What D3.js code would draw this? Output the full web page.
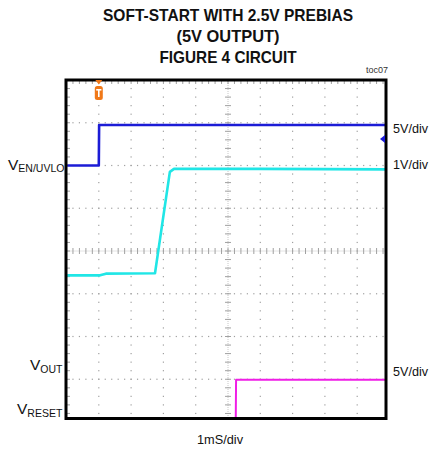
<!DOCTYPE html>
<html>
<head>
<meta charset="utf-8">
<script src="https://cdn.jsdelivr.net/npm/d3@7"></script>
<style>
  html, body { margin: 0; padding: 0; background: #fff; }
  svg { display: block; }
  text { font-family: "Liberation Sans", Arial, sans-serif; }
</style>
</head>
<body>
<div id="chart"></div>
<script>
// ---------------- DATA ----------------
const titleLines = ["SOFT-START WITH 2.5V PREBIAS", "(5V OUTPUT)", "FIGURE 4 CIRCUIT"];
const figureTag = "toc07";
const timeLabel = "1mS/div";

// time in ms from left edge of the screen, voltages in volts
const enTime  = [0.02, 1.00, 1.01, 9.95];
const enVolt  = [0.00, 0.00, 4.74, 4.74];

const outTime = [0.02, 1.04, 1.22, 2.74, 3.20, 3.33, 6.00, 9.95];
const outVolt = [2.43, 2.43, 2.47, 2.48, 4.85, 4.92, 4.92, 4.91];

const rstTime = [0.02, 5.24, 5.25, 9.95];
const rstVolt = [0.35, 0.35, 4.95, 4.95];

// channel settings: volts per division and ground position (divisions from centre)
const channelNames  = ["EN/UVLO", "OUT", "RESET"];
const channelScales = ["5V/div", "1V/div", "5V/div"];
const voltsPerDiv   = [5, 1, 5];
const groundDiv     = [2, -3, -4];
const channelColors = ["#1c1cd6", "#20e6e6", "#f01ee6"];
const triggerTime = 1.0;
const triggerLevel = 3.1; // volts on EN/UVLO channel

// ---------------- CHART ----------------
const W = 430, H = 451;
const svg = d3.select("#chart").append("svg").attr("width", W).attr("height", H);

const frame = {left: 66, right: 386, top: 80, bottom: 418.5};
const x = d3.scaleLinear().domain([0, 10]).range([66.5, 389.5]);
const y = d3.scaleLinear().domain([-4, 4]).range([422, 80]);

// title
const titleY = [20.5, 42, 62.5];
const titleW = [250, 103, 137];
titleLines.forEach((t, i) => {
  svg.append("text")
    .attr("x", 228).attr("y", titleY[i])
    .attr("text-anchor", "middle")
    .attr("font-size", 16.5).attr("font-weight", "bold")
    .attr("textLength", titleW[i]).attr("lengthAdjust", "spacingAndGlyphs")
    .attr("fill", "#111")
    .text(t);
});
svg.append("text").attr("x", 388).attr("y", 73).attr("text-anchor", "end")
  .attr("font-size", 9).attr("fill", "#333").text(figureTag);

// clip
svg.append("clipPath").attr("id", "plotclip").append("rect")
  .attr("x", frame.left).attr("y", frame.top)
  .attr("width", frame.right - frame.left).attr("height", frame.bottom - frame.top);

const plot = svg.append("g").attr("clip-path", "url(#plotclip)");

// grid dots
const gridCol = "#a0a0a0";
const xMinor = d3.range(0, 50.01, 1).map(k => k / 5);
const yMinor = d3.range(-20, 20.01, 1).map(k => k / 5);
const xMajor = d3.range(1, 10, 1);
const yMajor = d3.range(-3, 4, 1);

const dots = plot.append("g").attr("fill", gridCol);
yMajor.filter(d => d !== 0).forEach(gy => {
  xMinor.forEach(gx => {
    dots.append("rect").attr("x", x(gx) - 0.6).attr("y", y(gy) - 0.6).attr("width", 1.2).attr("height", 1.2);
  });
});
xMajor.filter(d => d !== 5).forEach(gx => {
  yMinor.forEach(gy => {
    dots.append("rect").attr("x", x(gx) - 0.6).attr("y", y(gy) - 0.6).attr("width", 1.2).attr("height", 1.2);
  });
});

// centre cross with ticks
const cross = plot.append("g").attr("stroke", gridCol).attr("stroke-width", 1);
cross.append("line").attr("x1", x(0)).attr("x2", x(10)).attr("y1", y(0)).attr("y2", y(0))
  .attr("stroke", "#c8c8c8").attr("stroke-dasharray", "1,1");
cross.append("line").attr("x1", x(5)).attr("x2", x(5)).attr("y1", y(-4)).attr("y2", y(4))
  .attr("stroke", "#c8c8c8").attr("stroke-dasharray", "1,1");
xMinor.forEach(gx => {
  cross.append("line").attr("x1", x(gx)).attr("x2", x(gx)).attr("y1", y(0) - 3).attr("y2", y(0) + 3);
  cross.append("line").attr("x1", x(gx)).attr("x2", x(gx)).attr("y1", frame.top).attr("y2", frame.top + 4);
});
yMinor.forEach(gy => {
  cross.append("line").attr("x1", x(5) - 3).attr("x2", x(5) + 3).attr("y1", y(gy)).attr("y2", y(gy));
  cross.append("line").attr("x1", frame.left).attr("x2", frame.left + 4).attr("y1", y(gy)).attr("y2", y(gy));
});

// traces
const series = [
  {t: enTime, v: enVolt, ch: 0},
  {t: outTime, v: outVolt, ch: 1},
  {t: rstTime, v: rstVolt, ch: 2}
];
const line = d3.line().x(d => x(d[0])).y(d => d[1]);
series.forEach(s => {
  const pts = s.t.map((t, i) => [t, y(groundDiv[s.ch] + s.v[i] / voltsPerDiv[s.ch])]);
  plot.append("path").datum(pts)
    .attr("d", line)
    .attr("fill", "none")
    .attr("stroke", channelColors[s.ch])
    .attr("stroke-width", s.ch === 2 ? 2 : 2.6)
    .attr("stroke-linejoin", "round");
});

// frame
svg.append("rect")
  .attr("x", frame.left).attr("y", frame.top)
  .attr("width", frame.right - frame.left).attr("height", frame.bottom - frame.top)
  .attr("fill", "none").attr("stroke", "#000").attr("stroke-width", 3);

// trigger marker (top, orange)
const tx = x(triggerTime);
const orange = "#f07818";
svg.append("path")
  .attr("d", `M${tx - 3.5},${frame.top} L${tx + 3.5},${frame.top} L${tx},${frame.top + 4.5} Z`)
  .attr("fill", orange);
svg.append("rect").attr("x", tx - 4).attr("y", 86).attr("width", 8).attr("height", 14).attr("rx", 2.5)
  .attr("fill", orange);
svg.append("rect").attr("x", tx - 2.6).attr("y", 89).attr("width", 5.2).attr("height", 1.6).attr("fill", "#fff");
svg.append("rect").attr("x", tx - 0.8).attr("y", 89).attr("width", 1.6).attr("height", 8).attr("fill", "#fff");

// trigger level marker (right, blue)
const ty = y(groundDiv[0] + triggerLevel / voltsPerDiv[0]);
svg.append("path")
  .attr("d", `M${frame.right - 6},${ty} L${frame.right - 1},${ty - 4} L${frame.right - 1},${ty + 4} Z`)
  .attr("fill", channelColors[0]);

// channel labels on the left
const leftLabels = [
  {name: channelNames[0], x: 8, y: 169.5},
  {name: channelNames[1], x: 30, y: 370},
  {name: channelNames[2], x: 17, y: 414}
];
leftLabels.forEach(l => {
  const t = svg.append("text").attr("x", l.x).attr("y", l.y).attr("fill", "#111");
  t.append("tspan").attr("font-size", 15.5).text("V");
  t.append("tspan").attr("font-size", 10.5).attr("dy", 2.5).text(l.name);
});

// scale labels on the right
const rightY = [133, 169, 376];
channelScales.forEach((s, i) => {
  svg.append("text").attr("x", 393).attr("y", rightY[i]).attr("font-size", 13)
    .attr("textLength", 35).attr("lengthAdjust", "spacingAndGlyphs")
    .attr("fill", "#111").text(s);
});

svg.append("text").attr("x", 220).attr("y", 444).attr("text-anchor", "middle")
  .attr("font-size", 13).attr("textLength", 46).attr("lengthAdjust", "spacingAndGlyphs")
  .attr("fill", "#111").text(timeLabel);
</script>
</body>
</html>
